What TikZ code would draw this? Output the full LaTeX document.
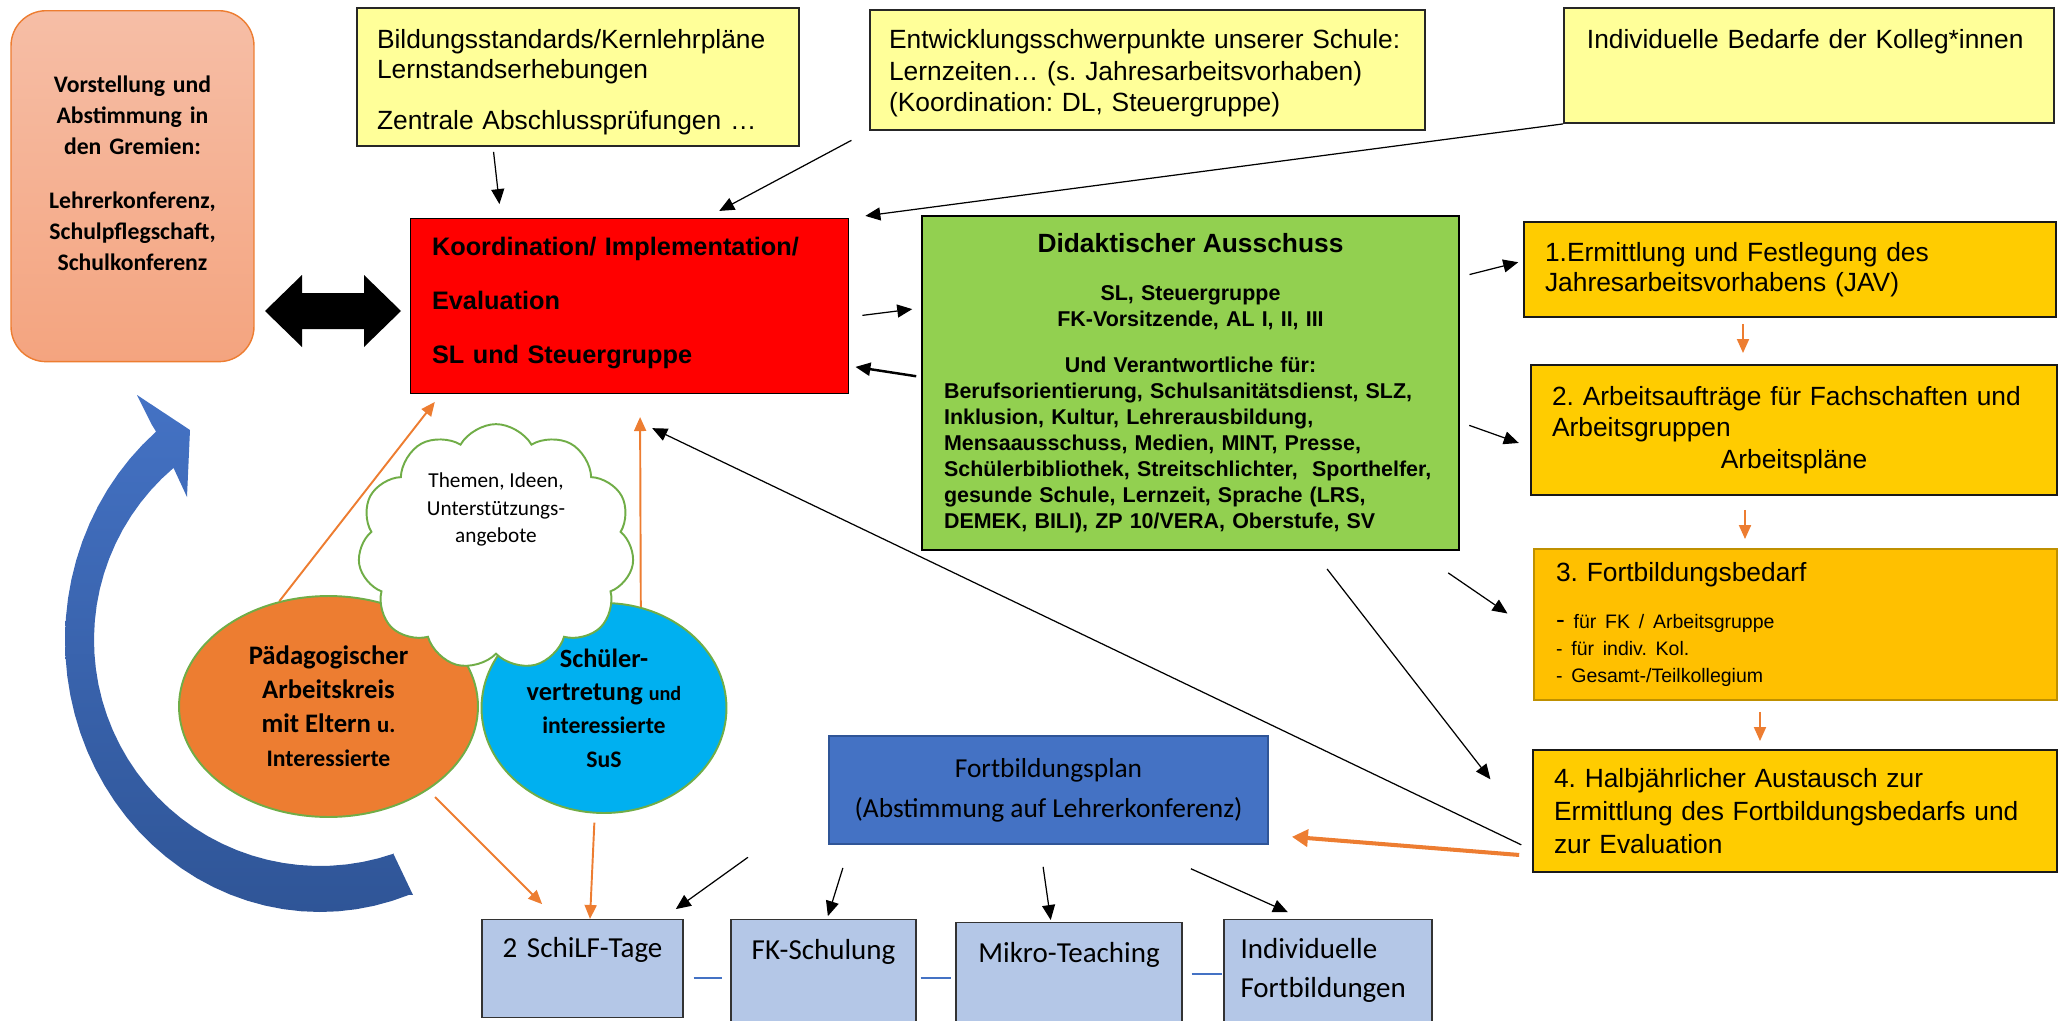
\documentclass[tikz,border=0pt]{standalone}
\usepackage{fontspec}
\setmainfont{Liberation Sans}
\newfontfamily\calibri{Carlito}
\usetikzlibrary{positioning,shapes.geometric,shapes.symbols,arrows.meta}
\frenchspacing

\definecolor{boxyellow}{HTML}{FFFF99}
\definecolor{boxgreen}{HTML}{92D050}
\definecolor{boxgold}{HTML}{FFCC00}
\definecolor{boxamber}{HTML}{FFC000}
\definecolor{amberline}{HTML}{BF9000}
\definecolor{msorange}{HTML}{ED7D31}
\definecolor{msgreen}{HTML}{70AD47}
\definecolor{msblue}{HTML}{4472C4}
\definecolor{msdarkblue}{HTML}{2F5597}
\definecolor{skyblue}{HTML}{00B0F0}
\definecolor{paleblue}{HTML}{B4C7E7}
\definecolor{salmontop}{HTML}{F6BEA6}
\definecolor{salmonbot}{HTML}{F4A47F}

\tikzset{
	yellowbox/.style={draw=black!85, line width=1.1pt, fill=boxyellow, align=left, inner ysep=0.1cm},
	goldbox/.style={draw=black!90, line width=1.1pt, fill=boxgold, align=left, inner ysep=0pt, font=\fontsize{15}{18}\selectfont},
	palebox/.style={draw=black!80, line width=0.7pt, fill=paleblue, inner xsep=0.1cm, inner ysep=0.1cm, font=\calibri\fontsize{16.5}{22.2}\selectfont},
	bubble/.style={ellipse, draw=msgreen, line width=1.1pt, align=center, inner sep=0pt, font=\calibri\bfseries\fontsize{15.2}{19.3}\selectfont},
	blackarrow/.style={-{Triangle[length=0.3cm,width=0.26cm]}, line width=0.7pt},
	orangearrow/.style={-{Triangle[length=0.28cm,width=0.24cm]}, draw=msorange, line width=1.1pt},
	thickorange/.style={-{Triangle[length=0.32cm,width=0.34cm]}, draw=msorange, line width=2.3pt},
	bluelink/.style={draw=msblue, line width=0.7pt}
}

\begin{document}
\begin{tikzpicture}[x=0.02cm, y=-0.02cm]
	\useasboundingbox (0,0) rectangle (2060,1021);

	\shade [top color=msblue, bottom color=msdarkblue] (413,895) -- (393,853)
		-- plot [domain=71:229.6, samples=40] ({320+226*cos(\x)}, {640+226*sin(\x)})
		-- (187,497) -- (190,430) -- (137,395) -- (152,425)
		-- plot [domain=-230:-69.5, samples=40] ({320+255*cos(-\x)}, {640+272*sin(-\x)})
		-- cycle;

	\node (gremien) [draw=msorange, line width=0.8pt, rounded corners=0.7cm, top color=salmontop, bottom color=salmonbot, anchor=north, minimum width=4.86cm, text width=4.66cm, inner xsep=0.1cm, inner ysep=0.1cm, text height=1.54cm, text depth=5.28cm, align=center, font=\calibri\bfseries\fontsize{13.5}{17.6}\selectfont] at (132.5,10) {Vorstellung und\\Abstimmung in\\den Gremien:\\[0.46cm]Lehrerkonferenz,\\Schulpflegschaft,\\Schulkonferenz};

	\fill (265,311) -- (302,275) -- (302,293) -- (364,293) -- (364,275) -- (401,311) -- (364,347) -- (364,329) -- (302,329) -- (302,347) -- cycle;

	\node (bild) [yellowbox, anchor=north, minimum width=8.84cm, inner xsep=0.4cm, text width=8.04cm, text height=0.71cm, text depth=1.85cm, font=\fontsize{15}{17}\selectfont] at (578,7) {Bildungsstandards/Kernlehrpläne\\Lernstandserhebungen\\[0.42cm]Zentrale Abschlussprüfungen …};
	\node (entw) [yellowbox, anchor=north, minimum width=11.1cm, inner xsep=0.38cm, text width=10.34cm, text height=0.67cm, text depth=1.53cm, font=\fontsize{15}{18}\selectfont] at (1147.5,9) {Entwicklungsschwerpunkte unserer Schule:\\Lernzeiten… (s. Jahresarbeitsvorhaben)\\(Koordination: DL, Steuergruppe)};
	\node (indiv) [yellowbox, anchor=north west, inner xsep=0.46cm, text width=8.88cm, text height=0.71cm, text depth=1.39cm, font=\fontsize{15}{17}\selectfont] at (1563,7) {Individuelle Bedarfe der Kolleg*innen};

	\node (koord) [draw, line width=0.6pt, fill=red, anchor=north, minimum width=8.78cm, inner xsep=0.44cm, inner ysep=0.1cm, text width=7.9cm, text height=0.63cm, text depth=2.67cm, align=left, font=\bfseries\fontsize{14.4}{31}\selectfont] at (629.5,218) {Koordination/ Implementation/\\Evaluation\\SL und Steuergruppe};

	\node (didakt) [draw, line width=1pt, fill=boxgreen, minimum width=10.74cm, minimum height=6.68cm, inner xsep=0.44cm, text width=9.86cm, align=left, font=\bfseries\fontsize{12.2}{14.8}\selectfont] at (1190.5,383) {{\centering\fontsize{15}{18}\selectfont Didaktischer Ausschuss\par}\vspace{0.44cm}{\centering SL, Steuergruppe\\FK-Vorsitzende, AL I, II, III\par}\vspace{0.4cm}{\centering Und Verantwortliche für:\par}Berufsorientierung, Schulsanitätsdienst, SLZ,\\Inklusion, Kultur, Lehrerausbildung,\\Mensaausschuss, Medien, MINT, Presse,\\Schülerbibliothek, Streitschlichter, \ Sporthelfer,\\gesunde Schule, Lernzeit, Sprache (LRS,\\DEMEK, BILI), ZP 10/VERA, Oberstufe, SV};

	\node (jav) [goldbox, minimum width=10.64cm, minimum height=1.9cm, inner xsep=0.42cm, text width=9.8cm, font=\fontsize{15}{17}\selectfont] at (1790,269.5) {1.Ermittlung und Festlegung des\\Jahresarbeitsvorhabens (JAV)};
	\node (auftr) [goldbox, minimum width=10.52cm, minimum height=2.6cm, inner xsep=0.42cm, text width=9.68cm] at (1794,430) {2. Arbeitsaufträge für Fachschaften und\\Arbeitsgruppen\\{\centering Arbeitspläne\par}};
	\node (fobed) [goldbox, draw=amberline, fill=boxamber, minimum width=10.46cm, minimum height=3.02cm, inner xsep=0.44cm, text width=9.58cm] at (1795.5,624.5) {3. Fortbildungsbedarf\par\vspace{0.41cm}{\fontsize{11.1}{15.4}\selectfont{\fontsize{15}{15.4}\selectfont -} für FK / Arbeitsgruppe\\- für indiv. Kol.\\- Gesamt-/Teilkollegium\par}};
	\node (halbj) [goldbox, minimum width=10.48cm, minimum height=2.44cm, inner xsep=0.42cm, text width=9.64cm, font=\fontsize{15}{18.8}\selectfont] at (1795,811) {4. Halbjährlicher Austausch zur\\Ermittlung des Fortbildungsbedarfs und\\zur Evaluation};

	\node (paed) [bubble, fill=msorange, minimum width=5.98cm, minimum height=4.42cm] at (328.5,706.5) {Pädagogischer\\Arbeitskreis\\mit Eltern {\fontsize{13}{19.3}\selectfont u.}\\{\fontsize{13.5}{19.3}\selectfont Interessierte}};
	\node (sv) [bubble, fill=skyblue, minimum width=4.9cm, minimum height=4.2cm, font=\calibri\bfseries\fontsize{15}{19}\selectfont] at (604,708) {Schüler-\\vertretung {\fontsize{11.5}{19}\selectfont und}\\{\fontsize{13.5}{19}\selectfont interessierte}\\{\fontsize{13.5}{19}\selectfont SuS}};
	\node (themen) [cloud, cloud puffs=11, cloud puff arc=120, aspect=1.18, draw=msgreen, fill=white, line width=1.1pt, inner xsep=0.4cm, inner ysep=0pt, text depth=1.56cm, align=center, font=\calibri\fontsize{12.1}{15.6}\selectfont] at (496,547) {Themen, Ideen,\\Unterstützungs-\\angebote};

	\node (fbplan) [draw=msdarkblue, line width=1.2pt, fill=msblue, minimum width=8.78cm, minimum height=2.16cm, align=center, font=\calibri\fontsize{15.6}{22.8}\selectfont] at (1048.5,790) {Fortbildungsplan\\(Abstimmung auf Lehrerkonferenz)};

	\node (schilf) [palebox, anchor=north, minimum width=4.02cm, text width=3.82cm, align=center, text height=0.66cm, text depth=1.1cm] at (582.5,919) {2 SchiLF-Tage};
	\node (fkschul) [palebox, anchor=north, minimum width=3.7cm, text width=3.5cm, align=center, text height=0.7cm, text depth=1.32cm] at (823.5,919) {FK-Schulung};
	\node (mikro) [palebox, anchor=north, minimum width=4.52cm, text width=4.32cm, align=center, text height=0.7cm, text depth=1.26cm] at (1069,922) {Mikro-Teaching};
	\node (indfb) [palebox, anchor=north, minimum width=4.16cm, inner xsep=0.33cm, text width=3.5cm, align=left, text height=0.68cm, text depth=1.34cm] at (1328,919) {Individuelle\\Fortbildungen};

	\draw [blackarrow, shorten <=0.1cm, shorten >=0.28cm] (bild.south -| 493,0) -- (koord.north -| 501,0);
	\draw [blackarrow, shorten <=0.4cm, shorten >=0.3cm] (entw.south west) -- (koord.north -| 706,0);
	\draw [blackarrow, shorten >=0.32cm] (indiv.south west) -- (koord.north east);
	\draw [blackarrow, shorten <=0.26cm, shorten >=0.18cm] (koord.east |- 0,317) -- (didakt.west |- 0,308);
	\draw [blackarrow, line width=1.4pt, shorten <=0.1cm, shorten >=0.12cm] (didakt.west |- 0,377) -- (koord.east |- 0,366);
	\draw [blackarrow, shorten <=0.2cm, shorten >=0.1cm] (didakt.east |- 0,277) -- (jav.west |- 0,261);
	\draw [blackarrow, shorten <=0.2cm, shorten >=0.24cm] (didakt.east |- 0,422) -- (auftr.west |- 0,447);
	\draw [blackarrow, shorten <=0.78cm, shorten >=0.62cm] (didakt.south -| 1416,0) -- (fobed.west |- 0,631);
	\draw [blackarrow, shorten <=0.46cm, shorten >=1.36cm] (didakt.south -| 1313,0) -- (halbj.west |- 0,833);
	\draw [blackarrow, shorten <=0.24cm, shorten >=1.58cm] (halbj.west |- 0,850) -- (koord.south -| 581,0);
	\draw [thickorange, shorten <=0.26cm, shorten >=0.46cm] (halbj.west |- 0,856) -- (fbplan.east |- 0,835);

	\draw [orangearrow, shorten <=0.12cm, shorten >=0.22cm] (jav.south -| 1743,0) -- (auftr.north -| 1743,0);
	\draw [orangearrow, shorten <=0.28cm, shorten >=0.18cm] (auftr.south -| 1745,0) -- (fobed.north -| 1745,0);
	\draw [orangearrow, shorten <=0.22cm, shorten >=0.16cm] (fobed.south -| 1760,0) -- (halbj.north -| 1760,0);

	\draw [orangearrow, shorten >=0.2cm] (paed.115) -- (koord.south -| 441,0);
	\draw [orangearrow, shorten >=0.46cm] (sv.70) -- (koord.south -| 640,0);
	\draw [orangearrow, shorten <=0.2cm, shorten >=0.42cm] (paed.-40) -- (schilf.north -| 557,0);
	\draw [orangearrow, shorten <=0.18cm] (sv.265) -- (schilf.north -| 590,0);

	\draw [blackarrow, shorten <=0.42cm, shorten >=0.34cm] (fbplan.south -| 765,0) -- (schilf.north -| 662,0);
	\draw [blackarrow, shorten <=0.48cm, shorten >=0.06cm] (fbplan.south -| 850,0) -- (fkschul.north -| 827,0);
	\draw [blackarrow, shorten <=0.44cm, shorten >=0.04cm] (fbplan.south -| 1040,0) -- (mikro.north -| 1051,0);
	\draw [blackarrow, shorten <=1.16cm, shorten >=0.33cm] (fbplan.south -| 1138,0) -- (indfb.north -| 1303,0);

	\draw [bluelink, shorten <=0.2cm, shorten >=0.16cm] (schilf.east |- 0,978) -- (fkschul.west |- 0,978);
	\draw [bluelink, shorten <=0.08cm, shorten >=0.08cm] (fkschul.east |- 0,978) -- (mikro.west |- 0,978);
	\draw [bluelink, shorten <=0.18cm, shorten >=0.02cm] (mikro.east |- 0,974) -- (indfb.west |- 0,974);
\end{tikzpicture}
\end{document}
